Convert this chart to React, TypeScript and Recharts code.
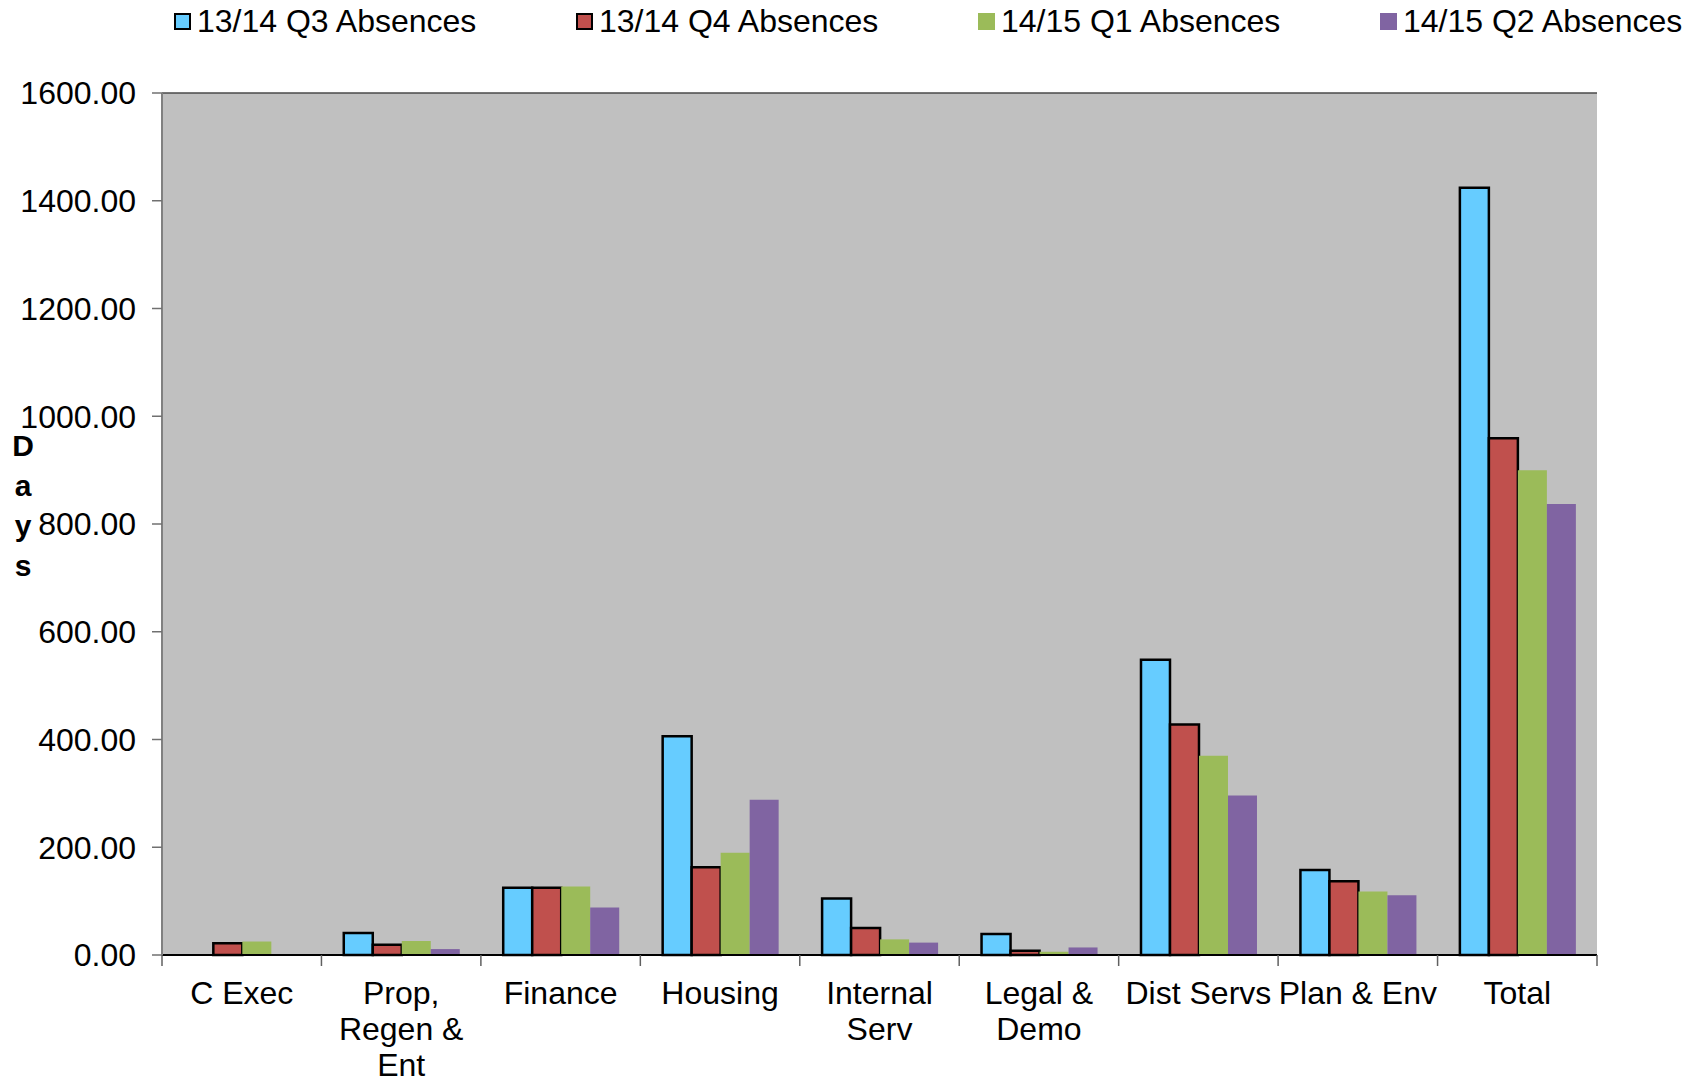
import { Bar, BarChart, CartesianGrid, Legend, XAxis, YAxis } from "recharts";

const categories = [
  "C Exec",
  "Prop, Regen & Ent",
  "Finance",
  "Housing",
  "Internal Serv",
  "Legal & Demo",
  "Dist Servs",
  "Plan & Env",
  "Total",
];
// how each category label wraps under the axis
const categoryLines = [
  ["C Exec"],
  ["Prop,", "Regen &", "Ent"],
  ["Finance"],
  ["Housing"],
  ["Internal", "Serv"],
  ["Legal &", "Demo"],
  ["Dist Servs"],
  ["Plan & Env"],
  ["Total"],
];

const q3_1314 = [0, 41, 125, 406, 105, 39, 548, 158, 1424];
const q4_1314 = [22, 19, 125, 163, 50, 8, 428, 137, 959];
const q1_1415 = [25, 26, 127, 190, 29, 6, 370, 118, 900];
const q2_1415 = [0, 11, 88, 288, 23, 14, 296, 111, 837];

const yTicks = [0, 200, 400, 600, 800, 1000, 1200, 1400, 1600];
const yLabel = "Days";

const series = [
  { key: "q3", name: "13/14 Q3 Absences", color: "#66CCFF", outlined: true },
  { key: "q4", name: "13/14 Q4 Absences", color: "#C0504D", outlined: true },
  { key: "q1", name: "14/15 Q1 Absences", color: "#9BBB59", outlined: false },
  { key: "q2", name: "14/15 Q2 Absences", color: "#8064A2", outlined: false },
];

const data = categories.map((name, i) => ({
  name,
  q3: q3_1314[i],
  q4: q4_1314[i],
  q1: q1_1415[i],
  q2: q2_1415[i],
}));

const W = 1699;
const H = 1085;
const M = { top: 49, right: 102, bottom: 5, left: 12 };
const Y_AXIS_W = 150;
const PLOT_W = W - M.left - M.right - Y_AXIS_W;
const STEP = PLOT_W / categories.length;

function CategoryTick(props: any) {
  const { x, y, payload } = props;
  const idx = categories.indexOf(payload.value);
  const lines = categoryLines[idx] || [payload.value];
  const left = x - STEP / 2;
  const right = x + STEP / 2;
  return (
    <g>
      <line x1={left} x2={left} y1={y} y2={y + 11} stroke="#606060" strokeWidth={1.5} />
      {idx === categories.length - 1 && (
        <line x1={right} x2={right} y1={y} y2={y + 11} stroke="#606060" strokeWidth={1.5} />
      )}
      <text x={x} y={y + 49} textAnchor="middle" fontSize={32} fill="#000">
        {lines.map((l, i) => (
          <tspan key={i} x={x} dy={i === 0 ? 0 : 36}>
            {l}
          </tspan>
        ))}
      </text>
    </g>
  );
}

function DaysLabel() {
  return (
    <text x={23} y={456} textAnchor="middle" fontSize={30} fontWeight="bold" fill="#000">
      {yLabel.split("").map((c, i) => (
        <tspan key={i} x={23} dy={i === 0 ? 0 : 40}>
          {c}
        </tspan>
      ))}
    </text>
  );
}

function LegendContent() {
  return (
    <div style={{ position: "relative", width: W, height: 44 }}>
      {series.map((s, i) => (
        <div
          key={s.key}
          style={{
            position: "absolute",
            left: 174 + i * 402,
            top: 0,
            height: 42,
            display: "flex",
            alignItems: "center",
            gap: 6,
            whiteSpace: "nowrap",
          }}
        >
          <span
            style={{
              display: "inline-block",
              width: 17,
              height: 17,
              boxSizing: "border-box",
              background: s.color,
              border: s.outlined ? "2.5px solid #000" : "none",
            }}
          />
          <span style={{ fontSize: 32, color: "#000", lineHeight: "42px" }}>{s.name}</span>
        </div>
      ))}
    </div>
  );
}

export default function App() {
  return (
    <div
      style={{
        position: "absolute",
        left: 0,
        top: 0,
        width: W,
        height: H,
        background: "#fff",
        fontFamily: "'Liberation Sans', Arial, sans-serif",
      }}
    >
      <BarChart
        width={W}
        height={H}
        data={data}
        margin={M}
        barCategoryGap="14%"
        barGap={0}
      >
        <CartesianGrid
          vertical={false}
          fill="#C0C0C0"
          stroke="#4a4a4a"
          strokeWidth={1.5}
        />
        <XAxis
          dataKey="name"
          interval={0}
          height={125}
          tickSize={0}
          tickMargin={0}
          tickLine={false}
          axisLine={{ stroke: "#000", strokeWidth: 2 }}
          tick={<CategoryTick />}
        />
        <YAxis
          yAxisId="left"
          width={Y_AXIS_W}
          domain={[0, 1600]}
          ticks={yTicks}
          interval={0}
          tickFormatter={(v: number) => v.toFixed(2)}
          tick={{ fontSize: 32, fill: "#000" }}
          tickSize={10}
          tickMargin={16}
          tickLine={{ stroke: "#707070", strokeWidth: 1.5 }}
          axisLine={{ stroke: "#808080", strokeWidth: 2 }}
          label={<DaysLabel />}
        />
        <YAxis
          yAxisId="right"
          orientation="right"
          width={0}
          domain={[0, 1600]}
          tick={false}
          tickLine={false}
          axisLine={{ stroke: "#999", strokeWidth: 3 }}
        />
        <Legend
          verticalAlign="top"
          wrapperStyle={{ top: 0, left: 0, width: W, height: 44 }}
          content={<LegendContent />}
        />
        {series.map((s) => (
          <Bar
            key={s.key}
            yAxisId="left"
            dataKey={s.key}
            name={s.name}
            fill={s.color}
            stroke={s.outlined ? "#000" : "none"}
            strokeWidth={s.outlined ? 2.5 : 0}
            isAnimationActive={false}
          />
        ))}
      </BarChart>
    </div>
  );
}
